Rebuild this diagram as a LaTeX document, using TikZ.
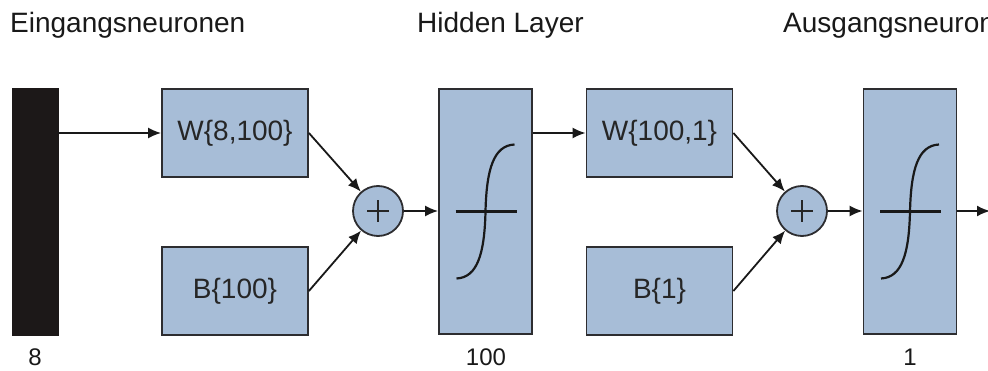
\documentclass[tikz,border=0pt]{standalone}
\usepackage{fontspec}
\setmainfont{Liberation Sans}
\usetikzlibrary{arrows.meta}
\definecolor{boxblue}{RGB}{167,189,215}
\definecolor{edge}{RGB}{45,45,48}
\definecolor{barblack}{RGB}{28,24,24}
\tikzset{
  blk/.style={draw=edge, fill=boxblue, line width=1.8pt, inner sep=0pt, text=black!85,
    font=\fontsize{28}{30}\selectfont},
  wbox/.style={blk, minimum width=146pt, minimum height=88pt},
  tallbox/.style={blk, minimum width=93pt, minimum height=245pt},
  sumnode/.style={blk, circle, minimum size=50pt},
  conn/.style={line width=1.8pt, draw=black!90, -{Latex[length=13pt,width=11pt]}},
  curvestyle/.style={line width=2.2pt, draw=black!90},
  toplabel/.style={anchor=base west, inner sep=0pt, font=\fontsize{28}{30}\selectfont, text=black!90},
  botlabel/.style={anchor=base, inner sep=0pt, font=\fontsize{24}{26}\selectfont, text=black!90}
}
\begin{document}
\begin{tikzpicture}[x=1pt,y=-1pt]
\clip (0,0) rectangle (988,371);
\fill[white] (0,0) rectangle (988,371);

% top labels
\node[toplabel] (lin) at (10,33) {Eingangsneuronen};
\node[toplabel] (lhid) at (417,33) {Hidden Layer};
\node[toplabel] (lout) at (783,33) {Ausgangsneuronen};

% input bar
\node[fill=barblack, draw=barblack, minimum width=46pt, minimum height=247pt, inner sep=0pt] (bar) at (35,211.5) {};

% first stage
\node[wbox] (W1) at (235,133) {W\{8,100\}};
\node[wbox] (B1) at (235,291) {B\{100\}};
\node[sumnode] (S1) at (378,211) {};
\node[tallbox] (H) at (485.5,211.5) {};

% second stage
\node[wbox] (W2) at (659.5,133) {W\{100,1\}};
\node[wbox] (B2) at (659.5,291) {B\{1\}};
\node[sumnode] (S2) at (802,211) {};
\node[tallbox] (O) at (910,211.5) {};
\coordinate (end) at (990,211);

% plus signs
\foreach \s in {S1,S2}{
  \draw[line width=1.8pt, black!85] ([xshift=-11pt]\s.center) -- ([xshift=11pt]\s.center);
  \draw[line width=1.8pt, black!85] ([yshift=-11pt]\s.center) -- ([yshift=11pt]\s.center);
}

% sigmoid symbols
\foreach \b in {H,O}{
  \draw[curvestyle] ([xshift=-30pt]\b.center) -- ([xshift=31pt]\b.center);
  \draw[curvestyle] ([shift={(-29,67)}]\b.center) .. controls ([shift={(-8,66)}]\b.center) and ([shift={(-1,42)}]\b.center) .. (\b.center)
     .. controls ([shift={(1,-42)}]\b.center) and ([shift={(8,-66)}]\b.center) .. ([shift={(29,-67)}]\b.center);
}

% connectors
\draw[conn] (bar.east |- W1.west) -- (W1.west);
\draw[conn] (W1.east) -- (S1);
\draw[conn] (B1.east) -- (S1);
\draw[conn] (S1.east) -- (H.west |- S1.east);
\draw[conn] (H.east |- W2.west) -- (W2.west);
\draw[conn] (W2.east) -- (S2);
\draw[conn] (B2.east) -- (S2);
\draw[conn] (S2.east) -- (O.west |- S2.east);
\draw[conn] (O.east |- end) -- (end);

% bottom labels
\node[botlabel] (n8) at (35,366) {8};
\node[botlabel] (n100) at (486,366) {100};
\node[botlabel] (n1) at (910,366) {1};
\end{tikzpicture}
\end{document}
